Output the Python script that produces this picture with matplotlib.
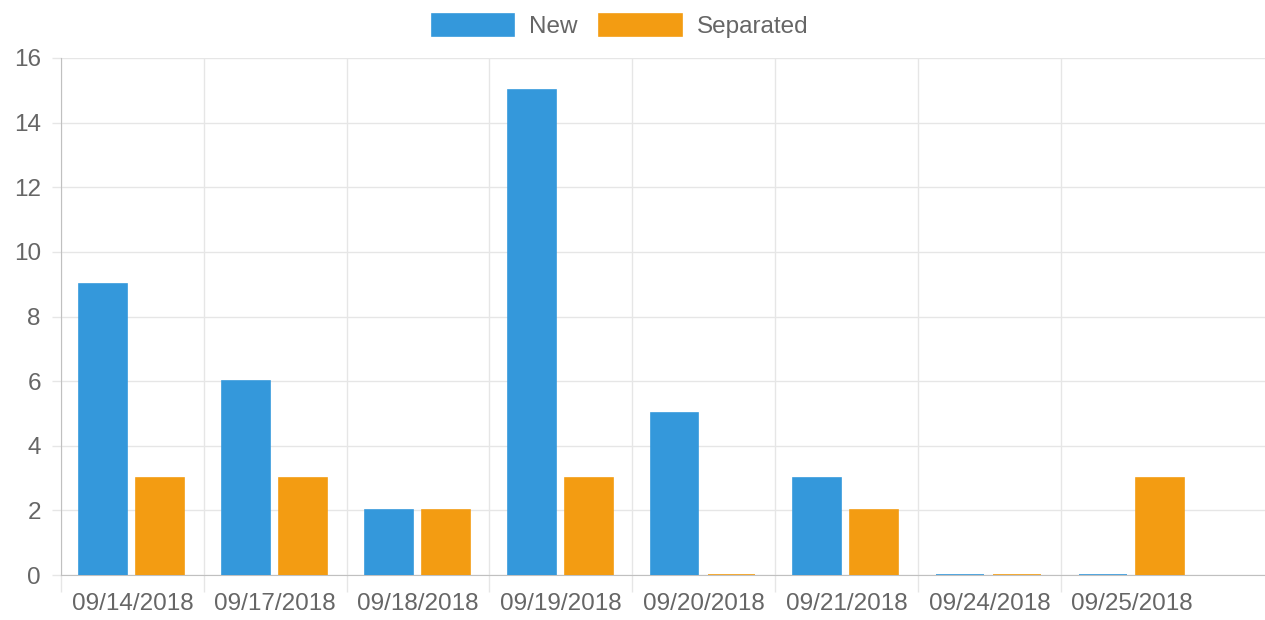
import matplotlib.pyplot as plt
import numpy as np

plt.rcParams['font.family'] = ['Liberation Sans', 'DejaVu Sans']

# Data
dates = ['09/14/2018', '09/17/2018', '09/18/2018', '09/19/2018',
         '09/20/2018', '09/21/2018', '09/24/2018', '09/25/2018']
new = [9, 6, 2, 15, 5, 3, 0, 0]
separated = [3, 3, 2, 3, 0, 2, 0, 3]

blue = '#3498db'
orange = '#f39c12'
text_col = '#666666'
grid_col = '#e6e6e6'
axis_col = '#c0c0c0'

x = np.arange(len(dates))
w = 0.335

fig = plt.figure(figsize=(12.65, 6.2), dpi=100)
ax = fig.add_axes([61 / 1265, 1 - 575 / 620, 1 - 61 / 1265, (575 - 58) / 620])

ax.bar(x - 0.205, new, w, color=blue, edgecolor=blue, linewidth=1.2, label='New', zorder=3)
ax.bar(x + 0.195, separated, w, color=orange, edgecolor=orange, linewidth=1.2, label='Separated', zorder=3)

ax.set_xlim(-0.5, 7.93)
ax.set_ylim(0, 16)
ax.set_yticks(range(0, 17, 2))
ax.set_xticks(x)
ax.set_xticklabels(dates)
ax.set_xticks(np.arange(-0.5, 7, 1), minor=True)

ax.grid(True, axis='y', color=grid_col, linewidth=1, zorder=0)
ax.grid(True, axis='x', which='minor', color=grid_col, linewidth=1, zorder=0)

for s in ['top', 'right']:
    ax.spines[s].set_visible(False)
ax.spines['left'].set_color(axis_col)
ax.spines['bottom'].set_color(axis_col)
ax.spines['bottom'].set_zorder(2)

fs = 17.5
ax.tick_params(axis='x', which='major', length=0, pad=13, labelsize=fs, labelcolor=text_col)
ax.tick_params(axis='x', which='minor', length=12, width=1, color=grid_col)
ax.tick_params(axis='y', length=6.5, width=1, color=grid_col, pad=8, labelsize=fs, labelcolor=text_col)

leg = fig.legend(loc='center', bbox_to_anchor=(0.49, 0.958), ncol=2, frameon=False,
                 fontsize=fs, handlelength=3.4, handleheight=1.05, columnspacing=0.9,
                 handletextpad=0.6)
for t in leg.get_texts():
    t.set_color(text_col)

fig.savefig('out.png', dpi=100)
